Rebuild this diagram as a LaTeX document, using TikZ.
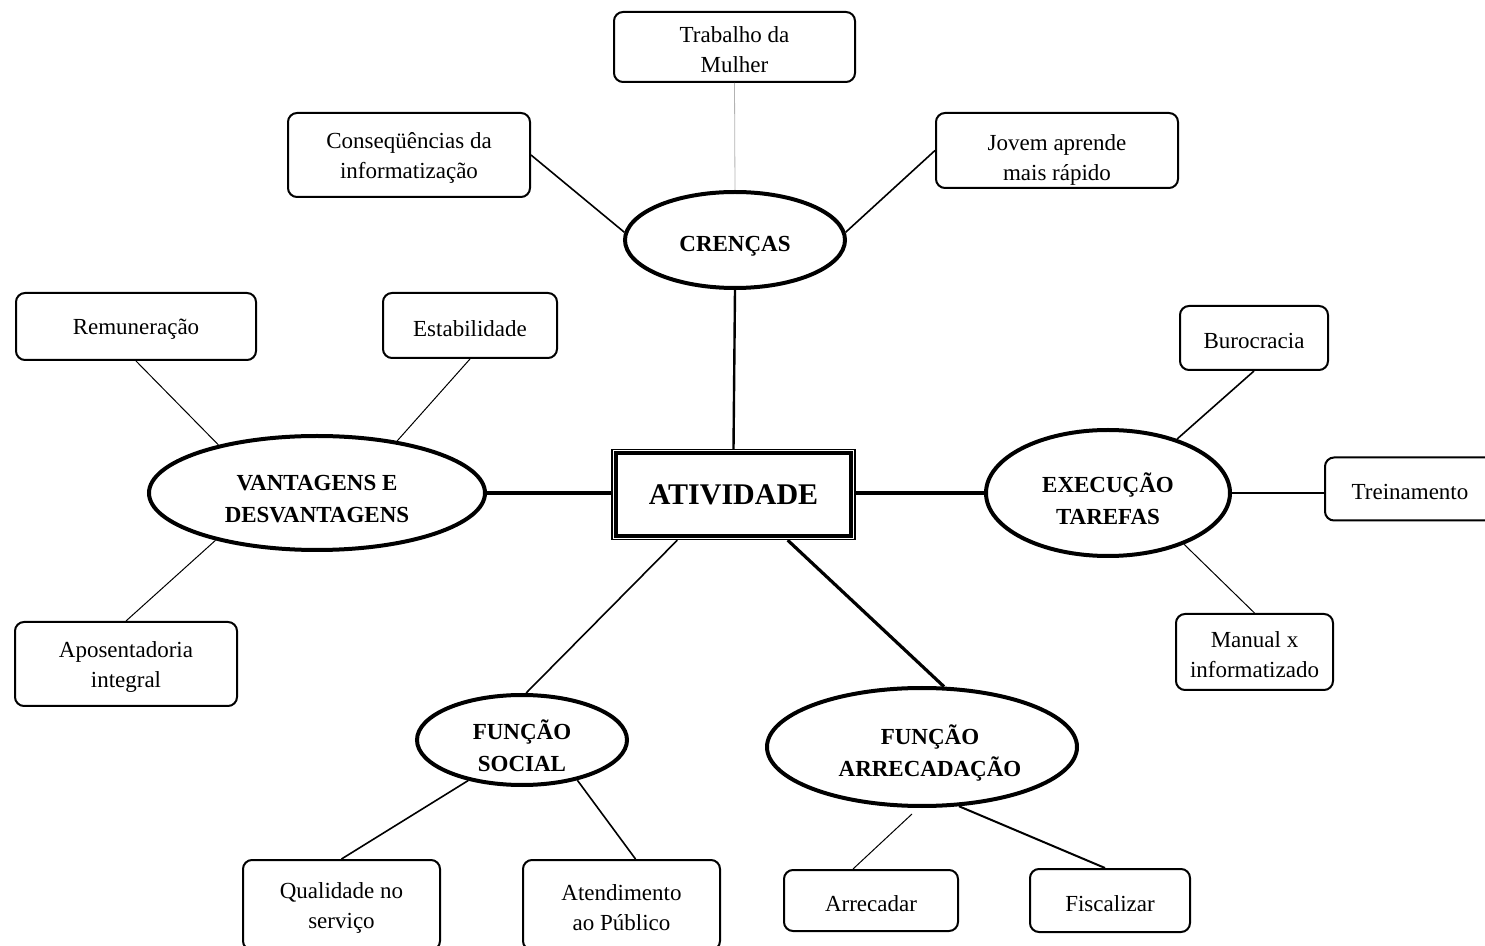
\documentclass[tikz,border=0pt]{standalone}
\usepackage{fontspec}
\setmainfont{Liberation Serif}
\usetikzlibrary{shapes.geometric,calc}
\tikzset{
  box/.style={draw, line width=1pt, rounded corners=4.5pt, inner sep=0pt},
  oval/.style={draw, ellipse, line width=2pt, inner sep=0pt},
  boxtext/.style={align=center, inner sep=0pt, yshift=-1.5pt,
    font=\fontsize{11.5}{15}\selectfont},
  ovaltext/.style={align=center, inner sep=0pt, yshift=-3pt,
    font=\fontsize{11.5}{16}\selectfont\bfseries},
  hub/.style={draw, line width=0.7pt, inner sep=0pt,
    font=\fontsize{15}{18}\selectfont\bfseries},
  thinlink/.style={line width=0.5pt},
  midlink/.style={line width=0.8pt},
}
\begin{document}
\begin{tikzpicture}[x=0.5pt, y=-0.5pt]
\useasboundingbox (0,0) rectangle (1485,946);
\clip (0,0) rectangle (1485,946);

% central concept
\node[hub, minimum width=121.5pt, minimum height=45pt] (ativ) at (733.5,494.5) {ATIVIDADE};
\draw[line width=2pt] ([shift={(2.2pt,2.2pt)}]ativ.south west) rectangle ([shift={(-2.2pt,-2.2pt)}]ativ.north east);

% themes
\node[oval, minimum width=110pt, minimum height=48pt,
  label={[ovaltext]center:{CRENÇAS}}] (cren) at (735,240) {};
\node[oval, minimum width=168pt, minimum height=57pt,
  label={[ovaltext]center:{VANTAGENS E\\DESVANTAGENS}}] (vant) at (317,493) {};
\node[oval, minimum width=122pt, minimum height=63pt,
  label={[ovaltext]center:{EXECUÇÃO\\TAREFAS}}] (exec) at (1108,493) {};
\node[oval, minimum width=105pt, minimum height=45pt,
  label={[ovaltext]center:{FUNÇÃO\\SOCIAL}}] (soc) at (522,740) {};
\node[oval, minimum width=155pt, minimum height=59pt,
  label={[ovaltext, xshift=4pt]center:{FUNÇÃO\\ARRECADAÇÃO}}] (arr) at (922,747) {};

% details
\node[box, minimum width=120.5pt, minimum height=35pt,
  label={[boxtext]center:{Trabalho da\\Mulher}}] (trab) at (734.5,47) {};
\node[box, minimum width=121pt, minimum height=42pt,
  label={[boxtext]center:{Conseqüências da\\informatização}}] (cons) at (409,155) {};
\node[box, minimum width=121pt, minimum height=37.5pt,
  label={[boxtext, yshift=-3pt]center:{Jovem aprende\\mais rápido}}] (jov) at (1057,150.5) {};
\node[box, minimum width=120pt, minimum height=33.5pt,
  label={[boxtext]center:{Remuneração}}] (remu) at (136,326.5) {};
\node[box, minimum width=87pt, minimum height=32.5pt,
  label={[boxtext]center:{Estabilidade}}] (esta) at (470,325.5) {};
\node[box, minimum width=111pt, minimum height=42pt,
  label={[boxtext]center:{Aposentadoria\\integral}}] (apos) at (126,664) {};
\node[box, minimum width=74pt, minimum height=32pt,
  label={[boxtext]center:{Burocracia}}] (buro) at (1254,338) {};
\node[box, minimum width=85pt, minimum height=31.5pt,
  label={[boxtext]center:{Treinamento}}] (trei) at (1410,489) {};
\node[box, minimum width=78.5pt, minimum height=38pt,
  label={[boxtext]center:{Manual x\\informatizado}}] (manu) at (1254.5,652) {};
\node[box, minimum width=98.5pt, minimum height=45pt,
  label={[boxtext]center:{Qualidade no\\serviço}}] (qual) at (341.5,905) {};
\node[box, minimum width=98.5pt, minimum height=45pt,
  label={[boxtext]center:{Atendimento\\ao Público}}] (aten) at (621.5,905) {};
\node[box, minimum width=87pt, minimum height=30.5pt,
  label={[boxtext]center:{Arrecadar}}] (arre) at (871,900.5) {};
\node[box, minimum width=80pt, minimum height=31.5pt,
  label={[boxtext]center:{Fiscalizar}}] (fisc) at (1110,900.5) {};

% links to the centre
\draw[line width=1.2pt] (cren.south) -- (ativ.north);
\draw[line width=2pt] (vant.east) -- (vant.east -| ativ.west);
\draw[line width=1.8pt] (exec.west -| ativ.east) -- (exec.west);
\draw[midlink] ([xshift=33pt]ativ.south west) -- (soc.85);
\draw[line width=1.6pt] ([xshift=-34pt]ativ.south east) -- (arr.70);

% links to the details
\draw[line width=0.4pt, gray!60] (trab.south) -- (cren.north);
\draw[midlink] (cons.east) -- (cren.176);
\draw[midlink] (jov.west) -- (cren.4);
\draw[thinlink] (remu.south) -- (vant.154);
\draw[thinlink] (esta.south) -- (vant.33);
\draw[thinlink] (apos.north) -- (vant.205);
\draw[midlink] (buro.south) -- (exec.38);
\draw[line width=1pt] (exec.east) -- (exec.east -| trei.west);
\draw[thinlink] (manu.north) -- (exec.-34);
\draw[midlink] (soc.217) -- (qual.north);
\draw[midlink] (soc.-36) -- ([xshift=7pt]aten.north);
\draw[thinlink] ([xshift=-5pt,yshift=-3pt]arr.south) -- ([xshift=-9pt]arre.north);
\draw[line width=1pt] (arr.-58) -- ([xshift=-2.5pt]fisc.north);
\end{tikzpicture}
\end{document}
